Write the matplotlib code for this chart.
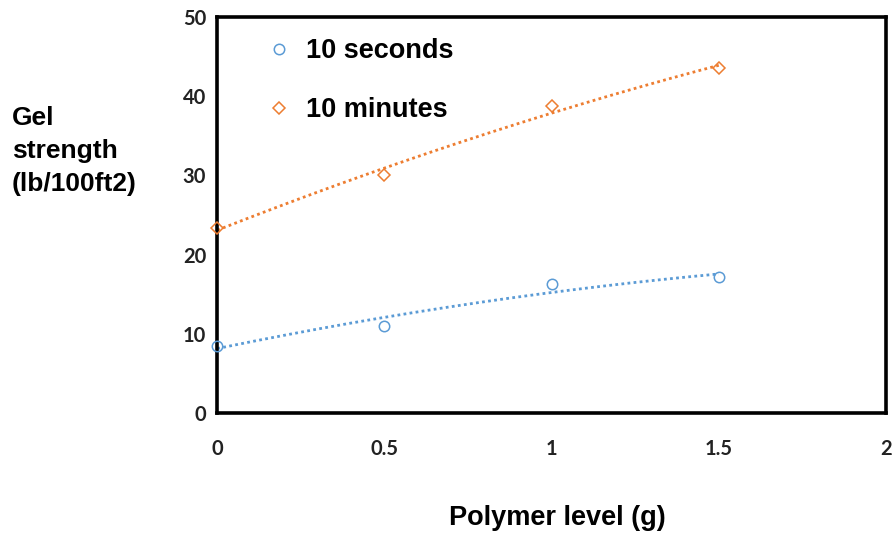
import numpy as np
import matplotlib
matplotlib.use("Agg")
import matplotlib.pyplot as plt

x = [0, 0.5, 1, 1.5]
sec10 = [8.5, 11.0, 16.3, 17.2]
min10 = [23.4, 30.0, 38.8, 43.6]
series_names = ["10 seconds", "10 minutes"]
xticks = [0, 0.5, 1, 1.5, 2]
xtick_labels = ["0", "0.5", "1", "1.5", "2"]
yticks = [0, 10, 20, 30, 40, 50]

blue = "#5B9BD5"
orange = "#ED7D31"

fig = plt.figure(figsize=(8.94, 5.34), dpi=100)
ax = fig.add_axes([0.243, 0.2266, 0.748, 0.7414])

xx = np.linspace(0, 1.5, 200)
for ys, c, m, name in [(sec10, blue, "o", series_names[0]), (min10, orange, "D", series_names[1])]:
    coef = np.polyfit(x, ys, 2)
    ax.plot(xx, np.polyval(coef, xx), color=c, lw=2, ls=(0, (1, 1.2)), zorder=2)
    ax.plot(x, ys, ls="none", marker=m, markersize=7.5 if m == "o" else 6,
            markerfacecolor="none", markeredgecolor=c, markeredgewidth=1.1, zorder=3, clip_on=False)

ax.set_xlim(0, 2)
ax.set_ylim(0, 50)
ax.set_xticks(xticks)
ax.set_xticklabels(xtick_labels)
ax.set_yticks(yticks)
ax.tick_params(length=0)
ax.tick_params(axis="x", pad=19)
ax.tick_params(axis="y", pad=8)
for lab in ax.get_xticklabels() + ax.get_yticklabels():
    lab.set_fontfamily("Lato")
    lab.set_fontweight("bold")
    lab.set_fontsize(14.5)
    lab.set_color("#222222")
for sp in ax.spines.values():
    sp.set_linewidth(2.6)
    sp.set_color("black")

# legend drawn as in the reference (inside plot, upper left)
lx, ty = 0.093, [0.92, 0.77]
for (m, c, name, size), yy in zip([("o", blue, series_names[0], 7.5), ("D", orange, series_names[1], 6)], ty):
    ax.plot([lx], [yy], transform=ax.transAxes, marker=m, markersize=size, markerfacecolor="none",
            markeredgecolor=c, markeredgewidth=1.1, ls="none")
    ax.text(lx + 0.04, yy - 0.005, name, transform=ax.transAxes, va="center", ha="left",
            fontfamily="Liberation Sans", fontweight="bold", fontsize=19.5)

fig.text(12 / 894, 1 - 151 / 534, "Gel\nstrength\n(lb/100ft2)", ha="left", va="center",
         fontfamily="Liberation Sans", fontweight="bold", fontsize=19, linespacing=1.45)
fig.text(557 / 894, 1 - 518 / 534, "Polymer level (g)", ha="center", va="center",
         fontfamily="Liberation Sans", fontweight="bold", fontsize=19.5)

fig.savefig("out.png", dpi=100)
